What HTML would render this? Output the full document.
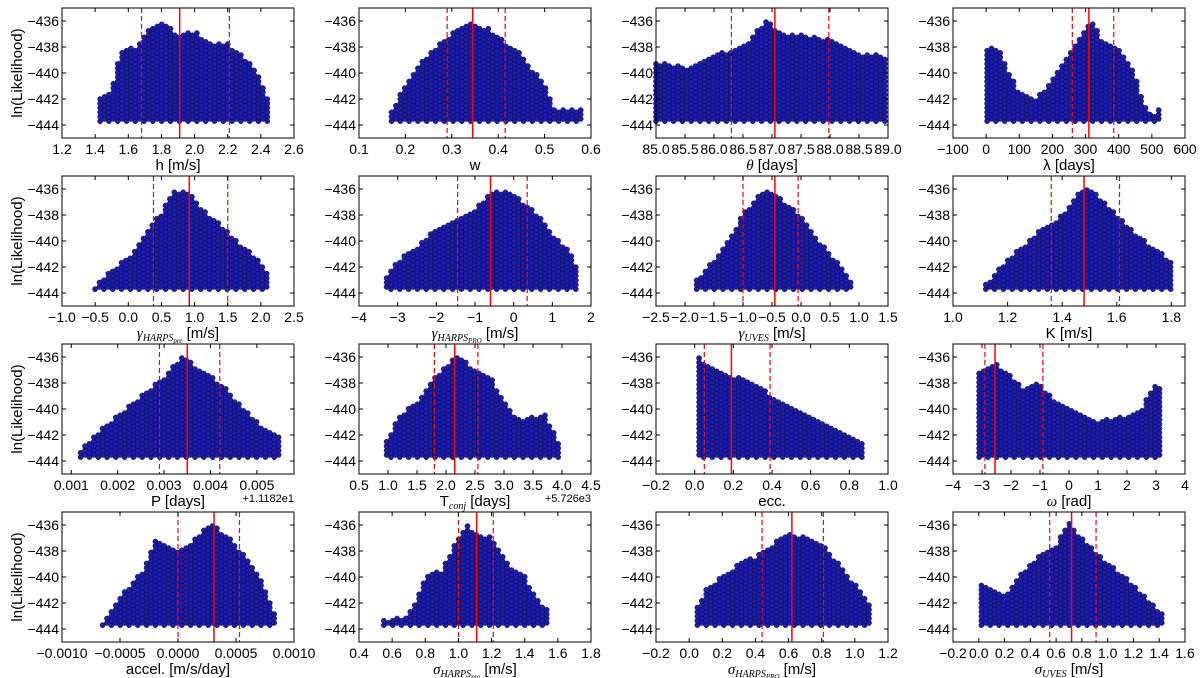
<!DOCTYPE html>
<html><head><meta charset="utf-8">
<style>
html,body{margin:0;padding:0;background:#fff;}
svg{display:block;font-family:"Liberation Sans",sans-serif;}
</style></head>
<body>
<svg id="fig" width="1200" height="678" viewBox="0 0 1200 678" xmlns="http://www.w3.org/2000/svg"></svg>
<script>
// ---- data ----
const yRange = [-445, -435];
const yTicks = [-444, -442, -440, -438, -436];
const cloudBase = -443.7;

const xLims = [[1.2,2.6],[0.1,0.6],[85,89],[-100,600],
               [-1,2.5],[-4,2],[-2.5,1.5],[1.0,1.85],
               [0.0008,0.0058],[0.5,4.5],[-0.2,1.0],[-4,4],
               [-0.001,0.001],[0.4,1.8],[-0.2,1.2],[-0.2,1.6]];
const xTickLabels = [
 ["1.2","1.4","1.6","1.8","2.0","2.2","2.4","2.6"],
 ["0.1","0.2","0.3","0.4","0.5","0.6"],
 ["85.0","85.5","86.0","86.5","87.0","87.5","88.0","88.5","89.0"],
 ["−100","0","100","200","300","400","500","600"],
 ["−1.0","−0.5","0.0","0.5","1.0","1.5","2.0","2.5"],
 ["−4","−3","−2","−1","0","1","2"],
 ["−2.5","−2.0","−1.5","−1.0","−0.5","0.0","0.5","1.0","1.5"],
 ["1.0","1.2","1.4","1.6","1.8"],
 ["0.001","0.002","0.003","0.004","0.005"],
 ["0.5","1.0","1.5","2.0","2.5","3.0","3.5","4.0","4.5"],
 ["−0.2","0.0","0.2","0.4","0.6","0.8","1.0"],
 ["−4","−3","−2","−1","0","1","2","3","4"],
 ["−0.0010","−0.0005","0.0000","0.0005","0.0010"],
 ["0.4","0.6","0.8","1.0","1.2","1.4","1.6","1.8"],
 ["−0.2","0.0","0.2","0.4","0.6","0.8","1.0","1.2"],
 ["−0.2","0.0","0.2","0.4","0.6","0.8","1.0","1.2","1.4","1.6"]];
const medians = [1.91,0.345,87.05,310, 0.92,-0.6,-0.45,1.48, 0.0035,2.15,0.19,-2.55, 0.00031,1.11,0.62,0.72];
const lowers  = [1.68,0.29,86.3,260, 0.38,-1.45,-1.0,1.36, 0.0029,1.8,0.05,-2.9, 0.0,1.0,0.44,0.55];
const uppers  = [2.21,0.415,87.98,385, 1.5,0.35,-0.05,1.61, 0.0042,2.55,0.39,-0.9, 0.00053,1.21,0.81,0.91];
const envX = [
 [1.43,1.5,1.55,1.65,1.75,1.8,1.9,2.0,2.1,2.2,2.3,2.38,2.45],
 [0.17,0.2,0.22,0.25,0.3,0.34,0.38,0.42,0.45,0.5,0.52,0.58],
 [85,85.5,86,86.5,86.9,87.2,87.5,88,88.5,89],
 [3,10,40,70,100,150,200,250,300,320,350,400,450,470,500,530],
 [-0.5,-0.3,0,0.3,0.5,0.7,0.9,1.1,1.4,1.7,2.0,2.1],
 [-3.4,-3,-2.5,-2,-1.5,-1,-0.5,0,0.5,1,1.5,1.7],
 [-1.8,-1.5,-1.2,-1,-0.7,-0.5,-0.3,0,0.3,0.6,0.9],
 [1.12,1.2,1.3,1.4,1.45,1.5,1.55,1.6,1.7,1.8],
 [0.0012,0.0015,0.002,0.0025,0.003,0.0034,0.0038,0.0042,0.0046,0.005,0.0055],
 [0.9,1.2,1.5,1.8,2.1,2.25,2.5,2.8,3.0,3.3,3.7,3.95],
 [0,0.02,0.1,0.2,0.3,0.4,0.5,0.6,0.7,0.8,0.87],
 [-3.1,-3,-2.5,-2,-1.5,-1,-0.5,0,1,2,2.5,3,3.14],
 [-0.00065,-0.0005,-0.0003,-0.0002,0,0.0001,0.00025,0.0003,0.0005,0.0007,0.00085],
 [0.55,0.7,0.8,0.9,1.0,1.05,1.1,1.2,1.3,1.4,1.5,1.55],
 [0.05,0.1,0.2,0.3,0.4,0.5,0.6,0.7,0.8,0.9,1.0,1.1],
 [0.02,0.2,0.3,0.4,0.5,0.6,0.7,0.8,0.9,1.0,1.2,1.43]];
const envTop = [
 [-442,-441.4,-438.3,-438,-436.3,-436,-437,-436.8,-437.8,-437.8,-438.8,-440,-442.3],
 [-442.8,-441,-439.7,-438.5,-437,-436.2,-436.6,-437.8,-438.6,-441,-442.8,-442.8],
 [-439.2,-439.6,-438.6,-438,-436,-437,-437,-437.5,-438.6,-438.7],
 [-438,-438,-438.2,-440,-441.5,-442,-440.5,-438.5,-436.5,-436,-437.5,-438.2,-440,-442,-443.4,-442.5],
 [-443.5,-442.5,-441.3,-439,-437.8,-436.2,-436.2,-437.5,-438.7,-440.3,-441.5,-442.5],
 [-443.4,-441.5,-440.5,-439,-438.5,-437.5,-436,-436.5,-437.5,-439.5,-441,-442.5],
 [-443,-441.5,-439.5,-438,-436.2,-436.2,-437,-438,-440,-441.5,-443.3],
 [-443.3,-441.5,-439.5,-438,-436.5,-435.8,-437,-438,-440,-441.5],
 [-443.3,-442,-440.5,-439,-437.5,-436,-437,-438,-439.5,-441,-442.3],
 [-443,-440.5,-439.5,-437.5,-436.3,-436,-437,-437.8,-439.5,-441,-440.3,-442.6],
 [-436.5,-436,-437,-437.5,-438,-439,-440,-440.5,-441.5,-442,-442.5],
 [-437,-437,-436.5,-437.5,-438.5,-438,-439.5,-440,-441,-440.5,-440,-438,-438.5],
 [-443.5,-441.5,-439.5,-437,-438,-437.5,-436,-436,-437.5,-440,-443],
 [-443.3,-443,-440,-439.5,-437,-436,-436.5,-437,-439,-440,-442,-442.5],
 [-442.3,-441,-440,-439,-438.5,-437.5,-436.5,-437,-437.5,-439,-440.5,-442.5],
 [-440.5,-441.5,-440,-439,-438,-437.5,-435.8,-437,-438,-439,-440.5,-443]];
const xLabels = [
 [["h [m/s]"]],[["w"]],[["θ","i"],[" [days]"]],[["λ"],[" [days]"]],
 [["γ","i"],["HARPS","is"],["pre","iss"],[" [m/s]"]],
 [["γ","i"],["HARPS","is"],["PRO","iss"],[" [m/s]"]],
 [["γ","i"],["UVES","is"],[" [m/s]"]],
 [["K [m/s]"]],
 [["P [days]"]],
 [["T"],["conj","is"],[" [days]"]],
 [["ecc."]],[["ω","i"],[" [rad]"]],
 [["accel. [m/s/day]"]],
 [["σ","i"],["HARPS","is"],["pre","iss"],[" [m/s]"]],
 [["σ","i"],["HARPS","is"],["PRO","iss"],[" [m/s]"]],
 [["σ","i"],["UVES","is"],[" [m/s]"]]];
const offsets = ["","","","","","","","","+1.1182e1","+5.726e3","","","","","",""];

// ---- layout ----
const NS="http://www.w3.org/2000/svg";
const fig=document.getElementById('fig');
const colL=[62,359,656,953], rowT=[8,176,344,512], W=232, H=130;
function mk(tag,attrs,parent){const e=document.createElementNS(NS,tag);for(const k in attrs)e.setAttribute(k,attrs[k]);(parent||fig).appendChild(e);return e;}
function interp(xs,ys,x){for(let i=0;i<xs.length-1;i++){if(x>=xs[i]&&x<=xs[i+1]){const t=(x-xs[i])/(xs[i+1]-xs[i]||1);return ys[i]+t*(ys[i+1]-ys[i]);}}return null;}

for(let p=0;p<16;p++){
  const r=Math.floor(p/4), c=p%4, L=colL[c], T=rowT[r];
  const [x0,x1]=xLims[p];
  const sx=v=>L+(v-x0)/(x1-x0)*W;
  const sy=v=>T+(yRange[1]-v)/(yRange[1]-yRange[0])*H;
  const g=mk('g',{});
  
  
  const cg=mk('g',{fill:'#1c1cb4',stroke:'#000','stroke-width':'0.4'},g);
  
  
  const xs=envX[p], ys=envTop[p];
  const px0=sx(xs[0]), px1=sx(xs[xs.length-1]);
  let col=0;
  for(let px=px0; px<=px1+0.01; px+=4.4, col++){
    const v=x0+(px-L)/W*(x1-x0);
    const top=interp(xs,ys,v); if(top===null) continue;
    const yb=sy(cloudBase), yt=sy(top);
    const off=(col%2)*2.2;
    for(let py=yb-off; py>=yt-0.5; py-=4.4){
      mk('circle',{cx:px.toFixed(1),cy:py.toFixed(1),r:2.6},cg);
    }
  }
  const addV=(v,dash,name)=>{const l=mk('line',{x1:sx(v),x2:sx(v),y1:T,y2:T+H,stroke:'#ff0000','stroke-width':dash?1.2:1.5,'stroke-dasharray':dash?'5,3':'none'},g);
    };
  addV(lowers[p],true,'lower-percentile-line');
  addV(medians[p],false,'median-line');
  addV(uppers[p],true,'upper-percentile-line');
  const fr=mk('rect',{x:L,y:T,width:W,height:H,fill:'none',stroke:'#000','stroke-width':1},g);
  
  yTicks.forEach(t=>{const y=sy(t);
    mk('line',{x1:L,x2:L+4,y1:y,y2:y,stroke:'#000'},g);
    mk('line',{x1:L+W,x2:L+W-4,y1:y,y2:y,stroke:'#000'},g);
    const tx=mk('text',{x:L-3,y:y+5,'text-anchor':'end','font-size':14},g);
    tx.textContent='−'+Math.abs(t);
    
  });
  const labs=xTickLabels[p], n=labs.length;
  const t0=parseFloat(labs[0].replace('−','-')), t1=parseFloat(labs[n-1].replace('−','-'));
  labs.forEach((lab,i)=>{const v=t0+(t1-t0)*i/(n-1);const x=sx(v);
    mk('line',{x1:x,x2:x,y1:T+H,y2:T+H-4,stroke:'#000'},g);
    mk('line',{x1:x,x2:x,y1:T,y2:T+4,stroke:'#000'},g);
    const tx=mk('text',{x:x,y:T+H+16,'text-anchor':'middle','font-size':14},g);
    tx.textContent=lab;
    
  });
  const xl=mk('text',{x:L+W/2,y:T+H+32,'text-anchor':'middle','font-size':15},g);
  
  let cur=0;
  xLabels[p].forEach(([s,st])=>{const ts=mk('tspan',{},xl);ts.textContent=s;
    let shift=0;
    if(st==='i'){ts.setAttribute('font-family','Liberation Serif, serif');ts.setAttribute('font-style','italic');}
    if(st==='is'){ts.setAttribute('font-family','Liberation Serif, serif');ts.setAttribute('font-style','italic');ts.setAttribute('font-size','10');shift=3;}
    if(st==='iss'){ts.setAttribute('font-family','Liberation Serif, serif');ts.setAttribute('font-style','italic');ts.setAttribute('font-size','7');shift=5;}
    if(shift!==cur){ts.setAttribute('dy',shift-cur);cur=shift;}
  });
  if(offsets[p]){const o=mk('text',{x:L+W,y:T+H+28,'text-anchor':'end','font-size':11},g);o.textContent=offsets[p];
    }
  if(c===0){const yl=mk('text',{x:0,y:0,'text-anchor':'middle','font-size':15,transform:`translate(22,${T+H/2}) rotate(-90)`},g);
    yl.textContent='ln(Likelihood)';
    }
}
</script>
</body></html>
